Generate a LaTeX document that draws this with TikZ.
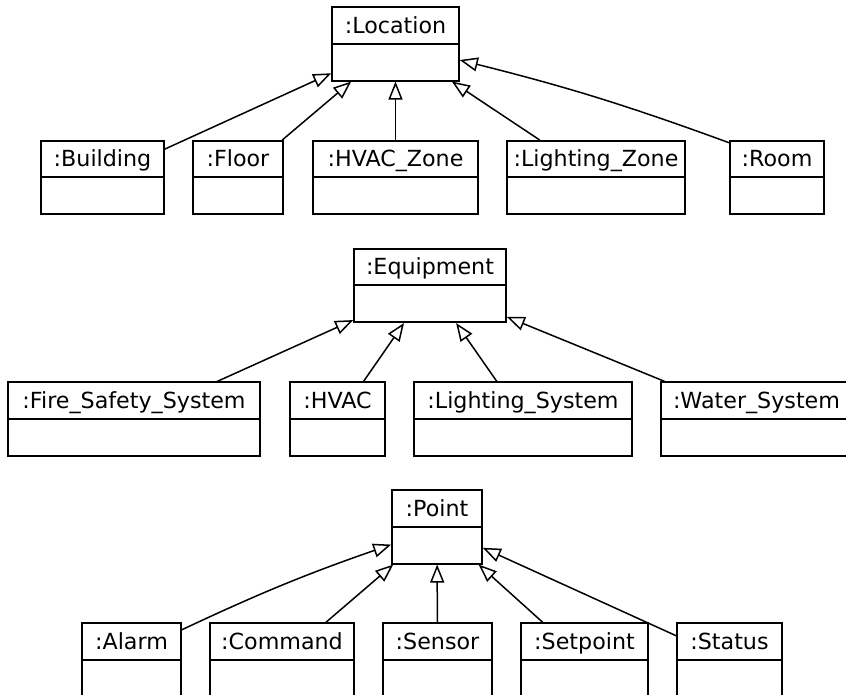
\documentclass[tikz,border=0pt]{standalone}
\usepackage{fontspec}
\setmainfont{DejaVu Sans}
\usetikzlibrary{arrows.meta}

\begin{document}
\begin{tikzpicture}[x=0.5pt, y=-0.5pt]
    %uml objects
\tikzset{
    classbox/.style={draw, line width=0.8pt, minimum height=36.75pt, inner sep=0pt,
        minimum width=#1,
        path picture={\draw[line width=0.8pt]
            ([yshift=-18.25pt]path picture bounding box.north west) --
            ([yshift=-18.25pt]path picture bounding box.north east);}},
    classname/.style={anchor=north, minimum height=18.25pt, inner sep=0pt,
        text height=8.1pt, text depth=0pt, font=\fontsize{11.1}{13}\selectfont},
    gen/.style={line width=0.75pt, -{Triangle[open, length=9pt, width=7pt]}}
}
    \path[use as bounding box] (0,0) rectangle (846,695);
    \clip (0,0) rectangle (846,695);

    % locations
    \node[classbox=63.5pt](Location) at (395.5,44) {};
    \node[classname](LocationT) at (Location.north) {:Location};
    \node[classbox=61.5pt](Building) at (102.5,177.5) {};
    \node[classname](BuildingT) at (Building.north) {:Building};
    \node[classbox=45pt](Floor) at (238,177.5) {};
    \node[classname](FloorT) at (Floor.north) {:Floor};
    \node[classbox=82.5pt](HVACZone) at (395.5,177.5) {};
    \node[classname](HVACZoneT) at (HVACZone.north) {:HVAC\_Zone};
    \node[classbox=89pt](LightingZone) at (596,177.5) {};
    \node[classname](LightingZoneT) at (LightingZone.north) {:Lighting\_Zone};
    \node[classbox=47pt](Room) at (777,177.5) {};
    \node[classname](RoomT) at (Room.north) {:Room};
    \draw[gen] (Building) -- (Location);
    \draw[gen] (Floor) -- (Location);
    \draw[gen] (HVACZone) -- (Location);
    \draw[gen] (LightingZone) -- (Location);
    \draw[gen] (Room.144) to[bend right=3] (Location.-14);

    % equipment
    \node[classbox=76pt](Equipment) at (430,285.5) {};
    \node[classname](EquipmentT) at (Equipment.north) {:Equipment};
    \node[classbox=126pt](FireSafety) at (134,419) {};
    \node[classname](FireSafetyT) at (FireSafety.north) {:Fire\_Safety\_System};
    \node[classbox=47.5pt](HVAC) at (337.5,419) {};
    \node[classname](HVACT) at (HVAC.north) {:HVAC};
    \node[classbox=109pt](LightingSystem) at (523,419) {};
    \node[classname](LightingSystemT) at (LightingSystem.north) {:Lighting\_System};
    \node[classbox=95.5pt](WaterSystem) at (756.5,419) {};
    \node[classname](WaterSystemT) at (WaterSystem.north) {:Water\_System};
    \draw[gen] (FireSafety) -- (Equipment);
    \draw[gen] (HVAC) -- (Equipment);
    \draw[gen] (LightingSystem) -- (Equipment);
    \draw[gen] (WaterSystem) -- (Equipment);

    % points
    \node[classbox=45pt](Point) at (437,527) {};
    \node[classname](PointT) at (Point.north) {:Point};
    \node[classbox=49.5pt](Alarm) at (131.5,660) {};
    \node[classname](AlarmT) at (Alarm.north) {:Alarm};
    \node[classbox=72pt](Command) at (282,660) {};
    \node[classname](CommandT) at (Command.north) {:Command};
    \node[classbox=54.5pt](Sensor) at (437.5,660) {};
    \node[classname](SensorT) at (Sensor.north) {:Sensor};
    \node[classbox=63.5pt](Setpoint) at (584.5,660) {};
    \node[classname](SetpointT) at (Setpoint.north) {:Setpoint};
    \node[classbox=52.5pt](Status) at (729.5,660) {};
    \node[classname](StatusT) at (Status.north) {:Status};
    \draw[gen] (Alarm.31) to[bend left=3] (Point.201);
    \draw[gen] (Command) -- (Point);
    \draw[gen] (Sensor) -- (Point);
    \draw[gen] (Setpoint) -- (Point);
    \draw[gen] (Status) -- (Point);
\end{tikzpicture}
\end{document}
